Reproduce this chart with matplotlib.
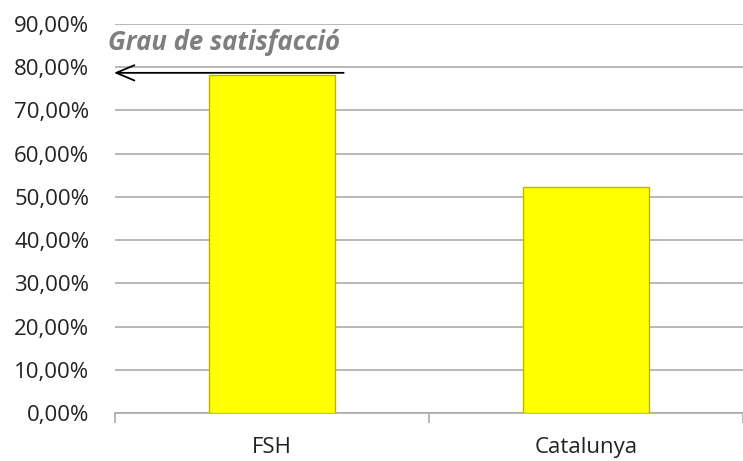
import matplotlib
matplotlib.use("Agg")
import matplotlib.pyplot as plt
from matplotlib.ticker import FuncFormatter

categories = ["FSH", "Catalunya"]
values = [78.2, 52.3]
yticks = [0, 10, 20, 30, 40, 50, 60, 70, 80, 90]
title = "Grau de satisfacció"

plt.rcParams['font.family'] = ['Open Sans', 'DejaVu Sans']

fig = plt.figure(figsize=(7.43, 4.61), dpi=100)
ax = fig.add_axes([115/743, (461-413)/461, 1 - 115/743, (413-24)/461])

x = range(len(categories))
ax.bar(x, values, width=0.4, color='#FFFF00', edgecolor='#B8B800', linewidth=1.0, zorder=3)

ax.set_ylim(0, 90)
ax.set_xlim(-0.5, 1.5 - 4/316)
ax.set_yticks(yticks)
ax.yaxis.set_major_formatter(FuncFormatter(lambda v, p: f"{v:.2f}".replace('.', ',') + "%"))
ax.grid(axis='y', color='#ABABAB', linewidth=1.2, zorder=0)
ax.set_axisbelow(True)

for s in ['top', 'right', 'left']:
    ax.spines[s].set_visible(False)
ax.spines['bottom'].set_color('#ABABAB')
ax.spines['bottom'].set_linewidth(1.2)

ax.set_xticks(list(x))
ax.set_xticklabels(categories)
ax.set_xticks([-0.5, 0.5, 1.5], minor=True)
ax.tick_params(axis='x', which='major', length=0, pad=17, labelsize=16, colors='#222222')
ax.tick_params(axis='x', which='minor', length=7, width=1.2, color='#ABABAB')
ax.tick_params(axis='y', length=0, pad=18.5, labelsize=16, labelcolor='#222222')

ax.annotate('', xy=(-0.512, 78.7), xytext=(0.237, 78.7), xycoords='data',
            arrowprops=dict(arrowstyle='->,head_length=1.3,head_width=0.55', color='black', lw=1.3),
            annotation_clip=False, zorder=5)
ax.text(-0.522, 84.0, title, fontsize=18.5, fontweight='bold', fontstyle='italic',
        color='#7F7F7F', ha='left', va='baseline', zorder=5)

fig.savefig('out.png', dpi=100)
